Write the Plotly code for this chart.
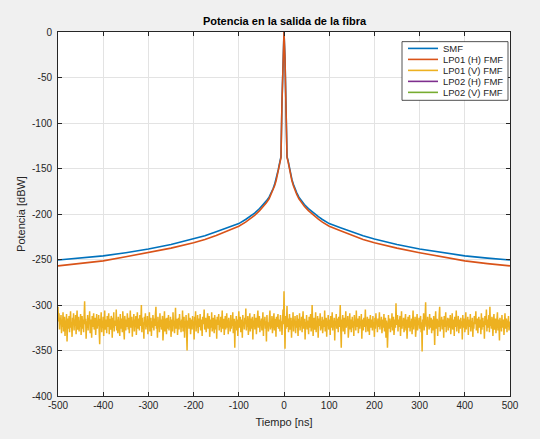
import numpy as np
import plotly.graph_objects as go

# ---------------- data ----------------
series_names = ["SMF", "LP01 (H) FMF", "LP01 (V) FMF", "LP02 (H) FMF", "LP02 (V) FMF"]
series_colors = ["#0072BD", "#D95319", "#EDB120", "#7E2F8E", "#77AC30"]

t_curve = [-500, -450, -400, -350, -300, -250, -200, -175, -150, -125, -100, -85, -76, -65, -54, -45, -39, -33, -28, -24,
           -20.8, -17.5, -14.9, -12.5, -11.2, -8.9, -6.7, -4.4, -2.2,
           0,
           2.2, 4.4, 6.7, 8.9, 11.2, 12.5, 14.9, 17.5, 20.8,
           24, 28, 33, 39, 45, 54, 65, 76, 85, 100, 125, 150, 175, 200, 250, 300, 350, 400, 450, 500]

smf = [-250.5, -248.5, -246, -242.5, -238.5, -233.5, -227.5, -224, -219.5, -215, -210.5, -206, -203, -199, -194, -189.5,
       -185.6, -181.5, -176.5, -172, -167.4, -162, -156.5, -151, -147.4, -141, -137, -76, -29,
       0,
       -29, -76, -137, -141, -147.4, -151, -156.5, -162, -167.4,
       -172, -176.5, -181.5, -185.6, -189.5, -194, -199, -203, -206, -210.5, -215, -219.5, -224, -227.5, -233.5, -238.5,
       -242.5, -246, -248.5, -250.5]

lp01_h = [-257, -254.5, -251.5, -247, -242.5, -237.5, -231.5, -228, -223.5, -218.5, -213.5, -209, -205.7, -201.5, -196.3,
          -191.6, -187.6, -183.3, -178.2, -173.6, -169, -163.5, -158, -152.3, -148.6, -142, -138, -76, -29,
          0,
          -29, -76, -138, -142, -148.6, -152.3, -158, -163.5, -169,
          -173.6, -178.2, -183.3, -187.6, -191.6, -196.3, -201.5, -205.7, -209, -213.5, -218.5, -223.5, -228, -231.5,
          -237.5, -242.5, -247, -251.5, -254.5, -257]

lp01_v = [
    -302, -318, -309, -327, -314, -321, -311, -331, -316, -324, -308, -329, -319, -313, -334, -317, -322, -310, -340, -320,
    -315, -326, -312, -330, -318, -307, -325, -319, -335, -314, -322, -309, -328, -316, -323, -311, -332, -318, -306, -327,
    -320, -313, -329, -317, -324, -310, -333, -319, -312, -326, -316, -330, -308, -296, -321, -315, -337, -318, -325, -311,
    -328, -314, -320, -307, -331, -322, -316, -336, -312, -324, -318, -309, -327, -321, -314, -333, -317, -310, -326, -319,
    -323, -311, -329, -343, -315, -320, -308, -330, -317, -325, -313, -334, -319, -306, -327, -322, -316, -331, -312, -324,
    -318, -309, -332, -315, -321, -327, -312, -319, -336, -314, -325, -308, -329, -320, -317, -323, -305, -328, -316, -331,
    -313, -322, -318, -334, -310, -326, -319, -315, -330, -307, -323, -317, -338, -312, -321, -328, -316, -324, -309, -320,
    -327, -314, -331, -318, -306, -325, -321, -313, -335, -317, -322, -310, -329, -316, -324, -312, -333, -319, -308, -326,
    -320, -315, -328, -311, -323, -318, -300, -330, -314, -326, -319, -337, -313, -321, -309, -327, -317, -324, -312, -332,
    -316, -322, -308, -329, -319, -314, -334, -318, -325, -311, -320, -328, -315, -323, -310, -302, -326, -319, -336, -313,
    -321, -317, -330, -309, -324, -316, -327, -320, -312, -339, -318, -323, -307, -329, -315, -322, -332, -314, -326, -319,
    -311, -328, -318, -324, -313, -335, -320, -316, -329, -308, -323, -317, -331, -312, -303, -326, -319, -315, -333, -321,
    -314, -327, -310, -322, -318, -330, -316, -325, -306, -329, -320, -313, -336, -318, -324, -311, -328, -350, -317, -322,
    -309, -326, -319, -314, -332, -321, -316, -327, -312, -323, -318, -338, -313, -320, -307, -329, -317, -325, -311, -331,
    -319, -315, -324, -310, -328, -322, -316, -334, -313, -321, -318, -305, -327, -320, -314, -330, -317, -323, -309, -326,
    -321, -312, -335, -318, -316, -325, -308, -329, -319, -314, -323, -331, -311, -320, -327, -316, -337, -313, -322, -318,
    -310, -328, -317, -324, -313, -330, -319, -306, -326, -321, -315, -333, -318, -312, -327, -320, -309, -325, -316, -332,
    -314, -322, -319, -329, -311, -326, -317, -323, -308, -331, -320, -315, -347, -318, -324, -312, -328, -316, -334, -321,
    -307, -325, -318, -313, -330, -320, -316, -336, -311, -323, -319, -327, -314, -321, -304, -328, -317, -324, -312, -333,
    -318, -322, -309, -329, -315, -326, -320, -313, -338, -317, -324, -310, -327, -319, -314, -332, -321, -316, -306, -325,
    -319, -312, -330, -317, -323, -315, -328, -320, -308, -334, -316, -322, -313, -326, -318, -340, -311, -324, -319, -329,
    -314, -321, -306, -327, -318, -325, -312, -331, -317, -320, -309, -328, -322, -315, -335, -313, -324, -318, -310, -326,
    -320, -316, -329, -311, -323, -318, -333, -314, -305, -321, -285, -319, -348, -312, -326, -317, -301, -324, -315, -330,
    -319, -310, -327, -321, -314, -336, -317, -323, -308, -329, -316, -322, -312, -331, -318, -325, -311, -320, -334, -315,
    -324, -309, -328, -318, -322, -313, -330, -316, -307, -326, -320, -315, -338, -319, -323, -311, -327, -317, -321, -332,
    -313, -325, -318, -310, -329, -321, -300, -316, -334, -319, -314, -327, -322, -308, -330, -317, -324, -312, -336, -320,
    -315, -323, -309, -328, -318, -326, -313, -331, -319, -316, -324, -306, -329, -320, -314, -335, -317, -322, -311, -327,
    -321, -316, -333, -312, -325, -319, -308, -328, -317, -323, -314, -339, -318, -320, -310, -326, -322, -315, -330, -313,
    -324, -318, -300, -327, -347, -316, -321, -311, -329, -319, -314, -332, -320, -307, -325, -317, -323, -312, -336, -318,
    -322, -309, -327, -316, -330, -320, -313, -325, -318, -334, -311, -321, -317, -328, -306, -324, -319, -315, -331, -322,
    -312, -326, -318, -323, -310, -337, -316, -320, -328, -314, -324, -319, -305, -330, -317, -322, -313, -329, -321, -315,
    -333, -318, -311, -325, -320, -316, -328, -312, -323, -319, -335, -314, -326, -309, -321, -317, -330, -315, -324, -320,
    -308, -327, -318, -322, -313, -331, -319, -316, -325, -310, -329, -320, -314, -336, -317, -323, -347, -318, -311, -326,
    -321, -315, -330, -317, -324, -309, -328, -319, -313, -333, -320, -316, -325, -298, -322, -318, -311, -329, -316, -324,
    -319, -312, -334, -321, -307, -326, -317, -323, -314, -330, -318, -322, -310, -328, -316, -337, -320, -313, -325, -319,
    -311, -329, -318, -324, -315, -332, -320, -306, -327, -316, -322, -313, -335, -319, -325, -310, -328, -317, -321, -314,
    -326, -318, -312, -330, -319, -351, -316, -323, -309, -328, -320, -315, -297, -324, -317, -333, -313, -321, -318, -327,
    -310, -325, -319, -314, -331, -320, -316, -328, -312, -323, -344, -318, -307, -326, -321, -315, -334, -317, -324, -311,
    -302, -329, -318, -322, -313, -327, -319, -316, -336, -312, -324, -320, -308, -330, -317, -323, -314, -328, -321, -315,
    -325, -311, -332, -318, -320, -309, -327, -322, -316, -334, -313, -324, -319, -306, -329, -317, -321, -312, -331, -320,
    -316, -326, -314, -323, -318, -338, -311, -325, -319, -315, -330, -321, -308, -327, -317, -322, -313, -333, -320, -316,
    -324, -310, -329, -318, -322, -314, -335, -319, -326, -312, -321, -317, -307, -328, -323, -315, -331, -318, -313, -325,
    -320, -316, -332, -309, -327, -321, -314, -324, -318, -337, -312, -322, -319, -305, -329, -316, -325, -320, -311, -330,
    -302, -323, -317, -326, -313, -321, -334, -318, -310, -327, -320, -315, -331, -319, -324, -308, -328, -316, -322, -339,
    -314, -321, -318, -329, -311, -325, -319, -316, -333, -320, -309, -326, -322, -315, -330, -317, -324, -312, -328, -321,
    -318,
]
t_noise = np.linspace(-500, 500, len(lp01_v))

lp02_h = []   # not visible in the figure
lp02_v = []

x_ticks = [-500, -400, -300, -200, -100, 0, 100, 200, 300, 400, 500]
y_ticks = [0, -50, -100, -150, -200, -250, -300, -350, -400]

# ---------------- figure ----------------
FONT = "Liberation Sans, Arial, Helvetica, sans-serif"
TXT = "#262626"

fig = go.Figure()
fig.add_trace(go.Scatter(x=t_curve, y=smf, mode="lines", name=series_names[0],
                         line=dict(color=series_colors[0], width=1.6), showlegend=False))
fig.add_trace(go.Scatter(x=t_curve, y=lp01_h, mode="lines", name=series_names[1],
                         line=dict(color=series_colors[1], width=1.6), showlegend=False))
fig.add_trace(go.Scatter(x=t_noise, y=lp01_v, mode="lines", name=series_names[2],
                         line=dict(color=series_colors[2], width=1.5), showlegend=False))
fig.add_trace(go.Scatter(x=lp02_h, y=lp02_h, mode="lines", name=series_names[3],
                         line=dict(color=series_colors[3], width=1.6), showlegend=False))
fig.add_trace(go.Scatter(x=lp02_v, y=lp02_v, mode="lines", name=series_names[4],
                         line=dict(color=series_colors[4], width=1.6), showlegend=False))

ML, MR, MT, MB = 58, 30, 32, 41
W, H = 540, 439
PW, PH = W - ML - MR, H - MT - MB


def px(x):
    return (x - ML) / PW


def py(y):
    return 1 - (y - MT) / PH


# compact legend drawn in MATLAB style
shapes = [dict(type="rect", xref="paper", yref="paper", x0=px(402), x1=px(508), y0=py(100.7), y1=py(41.7),
               line=dict(color=TXT, width=0.8), fillcolor="white", layer="above")]
annotations = []
for i, (nm, col) in enumerate(zip(series_names, series_colors)):
    yy = py(48.5 + i * 11.05)
    shapes.append(dict(type="line", xref="paper", yref="paper", x0=px(408), x1=px(438), y0=yy, y1=yy,
                       line=dict(color=col, width=1.6), layer="above"))
    annotations.append(dict(xref="paper", yref="paper", x=px(440.5), y=yy, xanchor="left", yanchor="middle",
                            text=nm, showarrow=False, font=dict(family=FONT, size=9.5, color=TXT)))

fig.update_layout(
    width=W, height=H, autosize=False,
    margin=dict(l=ML, r=MR, t=MT, b=MB, pad=0),
    paper_bgcolor="#F0F0F0", plot_bgcolor="white",
    font=dict(family=FONT, size=10, color=TXT),
    title=dict(text="Potencia en la salida de la fibra", x=px(284.5), xref="paper", xanchor="center",
               y=1 - 21 / H, yref="container", yanchor="middle",
               font=dict(family=FONT, size=11, color="#000000", weight="bold")),
    shapes=shapes, annotations=annotations, showlegend=False,
)
fig.update_xaxes(range=[-500, 500], tickvals=x_ticks, ticktext=[str(v) for v in x_ticks],
                 showgrid=True, gridcolor="#E3E3E3", gridwidth=1, zeroline=False,
                 showline=True, linecolor=TXT, linewidth=1, mirror="ticks",
                 ticks="inside", ticklen=4, tickcolor=TXT, tickwidth=1,
                 tickfont=dict(family=FONT, size=10, color=TXT),
                 title=dict(text="Tiempo [ns]", font=dict(family=FONT, size=11, color=TXT), standoff=8))
fig.update_yaxes(range=[-400, 0], tickvals=y_ticks, ticktext=[str(v) for v in y_ticks],
                 showgrid=True, gridcolor="#E3E3E3", gridwidth=1, zeroline=False,
                 showline=True, linecolor=TXT, linewidth=1, mirror="ticks",
                 ticks="inside", ticklen=4, tickcolor=TXT, tickwidth=1,
                 ticklabelstandoff=3,
                 tickfont=dict(family=FONT, size=10, color=TXT),
                 title=dict(text="Potencia [dBW]", font=dict(family=FONT, size=11, color=TXT), standoff=4))

fig.write_html("out.html")
